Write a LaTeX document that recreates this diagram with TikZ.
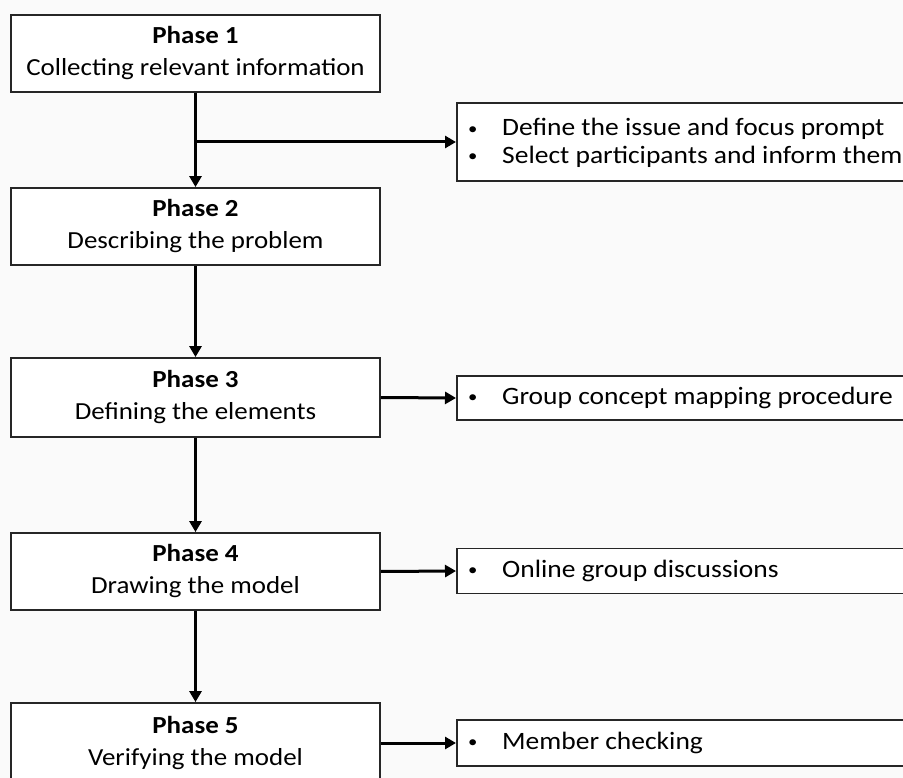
\documentclass[tikz,border=0pt]{standalone}
\usepackage{fontspec}
\setmainfont{Carlito}[FakeStretch=1.1]
\usetikzlibrary{arrows.meta}
\newcommand{\blt}{\makebox[35pt][l]{\hspace*{1pt}\raisebox{1.8pt}{\fontsize{17}{17}\selectfont•}}}
\begin{document}
\begin{tikzpicture}[x=1pt,y=-1pt,
  phasebox/.style={draw=black!85,line width=1.8pt,fill=white,minimum width=369pt,inner sep=0pt,align=center,font=\fontsize{24.5}{32}\selectfont},
  infobox/.style={draw=black!85,line width=1.8pt,fill=white,inner sep=0pt,anchor=west,minimum width=456pt},
  infotext/.style={anchor=west,inner sep=0pt,align=left,font=\fontsize{25}{27.5}\selectfont},
  flow/.style={draw=black,line width=3pt,-{Triangle[length=11pt,width=12pt]}}]
\fill[white!98!black] (0,0) rectangle (903,778);
\clip (0,0) rectangle (903,778);
\node[phasebox,minimum height=77pt] (p1) at (195.5,53.5) {\textbf{Phase 1}\\Collecting relevant information};
\node[phasebox,minimum height=77pt] (p2) at (195.5,226.5) {\textbf{Phase 2}\\Describing the problem};
\node[phasebox,minimum height=79pt] (p3) at (195.5,397.5) {\textbf{Phase 3}\\Defining the elements};
\node[phasebox,minimum height=77pt] (p4) at (195.5,571.5) {\textbf{Phase 4}\\Drawing the model};
\node[phasebox,minimum height=80pt] (p5) at (195.5,743) {\textbf{Phase 5}\\Verifying the model};
\node[infobox,minimum height=78pt] (r1) at (456,142) {};
\node[infobox,minimum height=44pt] (r3) at (456,398) {};
\node[infobox,minimum height=45pt] (r4) at (456,571) {};
\node[infobox,minimum height=46pt] (r5) at (456,743) {};
\node[infotext] (t1) at (467,143) {\blt Define the issue and focus prompt\\\blt Select participants and inform them};
\node[infotext] (t3) at (467,398) {\blt Group concept mapping procedure};
\node[infotext] (t4) at (467,571) {\blt Online group discussions};
\node[infotext] (t5) at (467,743) {\blt Member checking};
\coordinate (b1) at (p1.south |- r1.west);
\draw[flow] (p1.south) -- (p2.north);
\draw[flow] (b1) -- (r1.west);
\draw[flow] (p2.south) -- (p3.north);
\draw[flow] (p3.south) -- (p4.north);
\draw[flow] (p4.south) -- (p5.north);
\draw[flow] (p3.east) -- (r3.west);
\draw[flow] (p4.east) -- (r4.west);
\draw[flow] (p5.east |- r5.west) -- (r5.west);
\end{tikzpicture}
\end{document}
